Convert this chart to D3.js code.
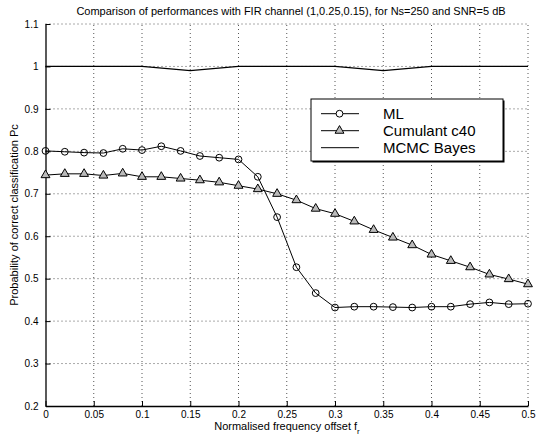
<!DOCTYPE html>
<html>
<head>
<meta charset="utf-8">
<script src="https://cdn.jsdelivr.net/npm/d3@7"></script>
<style>
  body { margin: 0; background: #fff; }
  svg { display: block; font-family: "Liberation Sans", Arial, Helvetica, sans-serif; }
</style>
</head>
<body>
<div id="chart"></div>
<script>
// values
const offsets = [0, 0.02, 0.04, 0.06, 0.08, 0.10, 0.12, 0.14, 0.16, 0.18, 0.20, 0.22, 0.24,
                 0.26, 0.28, 0.30, 0.32, 0.34, 0.36, 0.38, 0.40, 0.42, 0.44, 0.46, 0.48, 0.50];
const mlValues = [0.801, 0.799, 0.797, 0.796, 0.806, 0.803, 0.812, 0.801, 0.789, 0.785, 0.781, 0.740, 0.645,
                  0.527, 0.466, 0.432, 0.434, 0.434, 0.433, 0.432, 0.434, 0.434, 0.440, 0.444, 0.440, 0.441];
const c40Values = [0.744, 0.747, 0.747, 0.743, 0.748, 0.740, 0.740, 0.736, 0.732, 0.727, 0.719, 0.711, 0.700,
                   0.685, 0.665, 0.653, 0.635, 0.615, 0.597, 0.579, 0.557, 0.542, 0.527, 0.510, 0.499, 0.487];
const bayesOffsets = [0, 0.05, 0.10, 0.15, 0.20, 0.25, 0.30, 0.35, 0.40, 0.45, 0.50];
const bayesValues = [1, 1, 1, 0.99, 1, 1, 1, 0.99, 1, 1, 1];
const xTicks = [0, 0.05, 0.1, 0.15, 0.2, 0.25, 0.3, 0.35, 0.4, 0.45, 0.5];
const yTicks = [0.2, 0.3, 0.4, 0.5, 0.6, 0.7, 0.8, 0.9, 1, 1.1];
const legendLabels = ["ML", "Cumulant c40", "MCMC Bayes"];

let width = 539, height = 442;
let margin = {top: 24, right: 11, bottom: 36, left: 45.5};

let svg = d3.select("#chart").append("svg")
    .attr("width", width)
    .attr("height", height);

let x = d3.scaleLinear([0, 0.5], [margin.left, width - margin.right]);
let y = d3.scaleLinear([0.2, 1.1], [height - margin.bottom, margin.top]);
let fmt = d => String(+d.toFixed(2));

// dotted grid
svg.append("g")
    .attr("stroke", "#555")
    .attr("stroke-width", 1)
    .attr("stroke-dasharray", "1,3")
    .call(g => g.selectAll("line.v")
        .data(xTicks.slice(1))
        .join("line")
            .attr("x1", d => x(d)).attr("x2", d => x(d))
            .attr("y1", y(0.2)).attr("y2", y(1.1)))
    .call(g => g.selectAll("line.h")
        .data(yTicks.slice(1))
        .join("line")
            .attr("y1", d => y(d)).attr("y2", d => y(d))
            .attr("x1", x(0)).attr("x2", x(0.5)));

// axes, ticks pointing inward
svg.append("g")
    .attr("transform", `translate(0,${y(0.2)})`)
    .call(d3.axisBottom(x).tickValues(xTicks).tickFormat(fmt).tickSizeInner(-5).tickSizeOuter(0).tickPadding(5))
    .call(g => g.select(".domain").attr("stroke-width", 1.3))
    .call(g => g.selectAll("text").attr("font-size", 10).attr("fill", "#000"));

svg.append("g")
    .attr("transform", `translate(${x(0)},0)`)
    .call(d3.axisLeft(y).tickValues(yTicks).tickFormat(fmt).tickSizeInner(-5).tickSizeOuter(0).tickPadding(7))
    .call(g => g.select(".domain").attr("stroke-width", 1.3))
    .call(g => g.selectAll("text").attr("font-size", 10).attr("fill", "#000"));

let line = d3.line()
    .x(d => x(d[0]))
    .y(d => y(d[1]));

let mlData = d3.zip(offsets, mlValues);
let c40Data = d3.zip(offsets, c40Values);
let bayesData = d3.zip(bayesOffsets, bayesValues);

let tri = d3.symbol(d3.symbolTriangle, 34);

// MCMC Bayes
svg.append("path")
    .attr("fill", "none")
    .attr("stroke", "#000")
    .attr("stroke-width", 1.3)
    .attr("d", line(bayesData));

// Cumulant c40
svg.append("path")
    .attr("fill", "none")
    .attr("stroke", "#000")
    .attr("stroke-width", 1)
    .attr("d", line(c40Data));
svg.append("g")
    .selectAll("path")
    .data(c40Data)
    .join("path")
        .attr("transform", d => `translate(${x(d[0])},${y(d[1])})`)
        .attr("d", tri)
        .attr("fill", "#bbb")
        .attr("stroke", "#000")
        .attr("stroke-width", 1);

// ML
svg.append("path")
    .attr("fill", "none")
    .attr("stroke", "#000")
    .attr("stroke-width", 1)
    .attr("d", line(mlData));
svg.append("g")
    .selectAll("circle")
    .data(mlData)
    .join("circle")
        .attr("cx", d => x(d[0]))
        .attr("cy", d => y(d[1]))
        .attr("r", 3.4)
        .attr("fill", "none")
        .attr("stroke", "#000")
        .attr("stroke-width", 1);

// legend
let legend = svg.append("g").attr("transform", "translate(311,99)");
legend.append("rect")
    .attr("x", 1.5).attr("y", 1.5)
    .attr("width", 192).attr("height", 62)
    .attr("fill", "#000");
legend.append("rect")
    .attr("width", 192).attr("height", 62)
    .attr("fill", "#fff")
    .attr("stroke", "#000")
    .attr("stroke-width", 1);
let rows = legend.selectAll("g.row")
    .data(legendLabels)
    .join("g")
        .attr("transform", (d, i) => `translate(0,${14.7 + i * 17})`);
rows.append("line")
    .attr("x1", 10).attr("x2", 48)
    .attr("stroke", "#000")
    .attr("stroke-width", 1);
rows.filter((d, i) => i === 0).append("circle")
    .attr("cx", 28.5).attr("r", 3.4)
    .attr("fill", "#fff").attr("stroke", "#000");
rows.filter((d, i) => i === 1).append("path")
    .attr("transform", "translate(28.5,0)")
    .attr("d", tri)
    .attr("fill", "#bbb").attr("stroke", "#000");
rows.append("text")
    .attr("x", 72)
    .attr("dy", "0.35em")
    .attr("font-size", 15)
    .text(d => d);

// title and axis labels
svg.append("text")
    .attr("x", 291)
    .attr("y", 14.5)
    .attr("text-anchor", "middle")
    .attr("font-size", 11)
    .text("Comparison of performances with FIR channel (1,0.25,0.15), for Ns=250 and SNR=5 dB");

let xlab = svg.append("text")
    .attr("x", 287)
    .attr("y", 430)
    .attr("text-anchor", "middle")
    .attr("font-size", 11);
xlab.append("tspan").text("Normalised frequency offset f");
xlab.append("tspan").attr("font-size", 8).attr("dy", 4).text("r");

svg.append("text")
    .attr("transform", `translate(18,${y(0.65)}) rotate(-90)`)
    .attr("text-anchor", "middle")
    .attr("font-size", 11)
    .text("Probability of correct classification Pc");
</script>
</body>
</html>
